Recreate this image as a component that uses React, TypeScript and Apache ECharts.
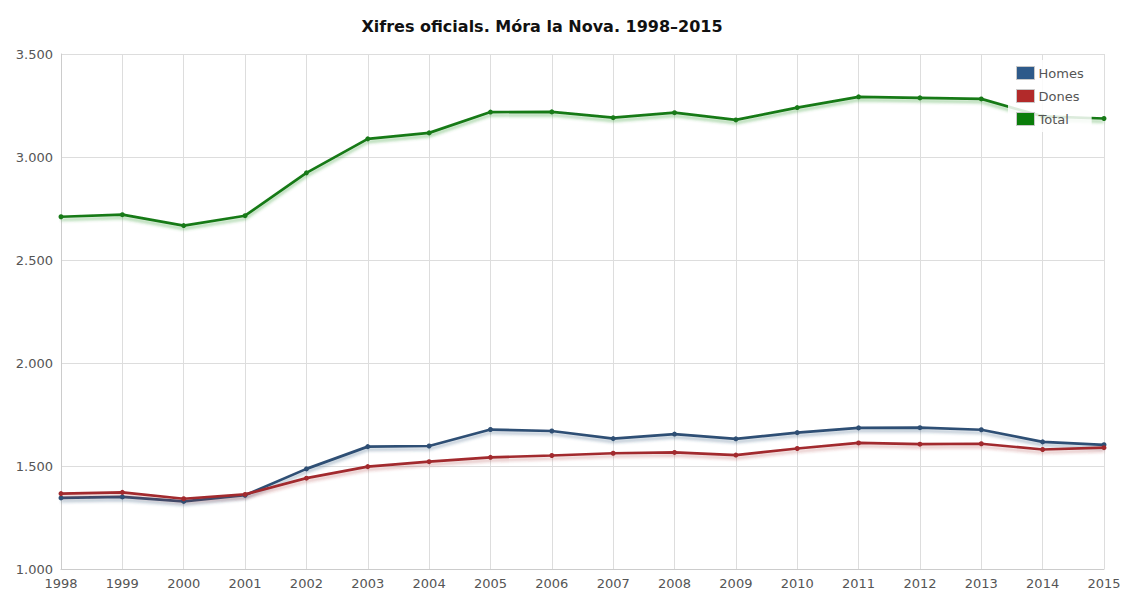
import React, { useEffect, useRef } from "react";
import * as echarts from "echarts";

const years = ["1998","1999","2000","2001","2002","2003","2004","2005","2006","2007","2008","2009","2010","2011","2012","2013","2014","2015"];
const homes = [1345,1350,1328,1358,1486,1594,1597,1677,1670,1633,1655,1632,1662,1685,1686,1676,1617,1603];
const dones = [1366,1372,1341,1362,1441,1497,1521,1542,1551,1562,1566,1553,1585,1612,1606,1608,1580,1589];
const total = [2710,2720,2667,2715,2923,3088,3117,3218,3219,3191,3215,3180,3240,3292,3287,3282,3197,3187];

const titleText = "Xifres oficials. Móra la Nova. 1998–2015";
const FONT = "DejaVu Sans, Verdana, sans-serif";

function fmt(v: number) {
  const s = String(Math.round(v));
  return s.replace(/\B(?=(\d{3})+(?!\d))/g, ".");
}

function mkSeries(name: string, data: number[], color: string, shadow: string) {
  return {
    name,
    type: "line",
    data,
    symbol: "circle",
    symbolSize: 5,
    itemStyle: { color },
    lineStyle: { color, width: 2.7, shadowColor: shadow, shadowBlur: 3, shadowOffsetY: 3 },
    emphasis: { disabled: true },
    z: 3,
  };
}

export default function App() {
  const ref = useRef<HTMLDivElement>(null);
  useEffect(() => {
    if (!ref.current) return;
    const chart = echarts.init(ref.current, null, { renderer: "svg" });
    chart.setOption({
      animation: false,
      backgroundColor: "#ffffff",
      title: {
        text: titleText,
        left: 537,
        top: 13,
        textAlign: "center",
        textStyle: { fontFamily: FONT, fontSize: 16, fontWeight: "bold", color: "#111" },
      },
      legend: {
        orient: "vertical",
        left: 1008,
        top: 60,
        padding: [6, 8, 6, 8],
        itemWidth: 18,
        itemHeight: 13,
        itemGap: 9,
        backgroundColor: "rgba(255,255,255,0.85)",
        textStyle: { fontFamily: FONT, fontSize: 13, color: "#555", padding: [0, 0, 0, -1] },
        itemStyle: { borderColor: "#c8c8c8", borderWidth: 1 },
        data: [
          { name: "Homes", icon: "rect", itemStyle: { color: "#2e5a8a" } },
          { name: "Dones", icon: "rect", itemStyle: { color: "#b22a2a" } },
          { name: "Total", icon: "rect", itemStyle: { color: "#0a7d0a" } },
        ],
        z: 10,
      },
      grid: { left: 61, right: 22, top: 54, bottom: 20, containLabel: false },
      xAxis: {
        type: "category",
        data: years,
        boundaryGap: false,
        axisLine: { show: true, lineStyle: { color: "#cccccc" } },
        axisTick: { show: false },
        splitLine: { show: true, lineStyle: { color: "#dddddd" } },
        axisLabel: { fontFamily: FONT, fontSize: 13, color: "#555", margin: 8, interval: 0 },
      },
      yAxis: {
        type: "value",
        min: 1000,
        max: 3500,
        interval: 500,
        axisLine: { show: true, lineStyle: { color: "#cccccc" } },
        axisTick: { show: false },
        splitLine: { show: true, lineStyle: { color: "#dddddd" } },
        axisLabel: {
          fontFamily: FONT,
          fontSize: 13,
          color: "#555",
          margin: 8,
          formatter: (v: number) => fmt(v),
        },
      },
      series: [
        mkSeries("Homes", homes, "#2f4f74", "rgba(47,79,116,0.35)"),
        mkSeries("Dones", dones, "#a22a2e", "rgba(162,42,46,0.3)"),
        mkSeries("Total", total, "#187a18", "rgba(60,160,60,0.45)"),
      ],
    });
    return () => chart.dispose();
  }, []);
  return <div ref={ref} style={{ position: "absolute", left: 0, top: 0, width: 1126, height: 590 }} />;
}
